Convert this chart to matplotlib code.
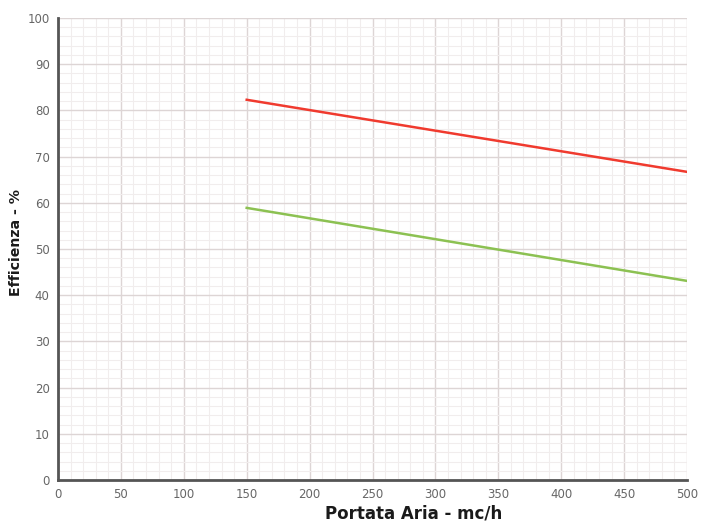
import matplotlib
matplotlib.use("Agg")
import matplotlib.pyplot as plt
from matplotlib.ticker import MultipleLocator

portata = [150, 500]
eff_red = [82.3, 66.7]
eff_green = [58.9, 43.1]

fig = plt.figure(figsize=(7.18, 5.24), dpi=100)
ax = fig.add_axes([58/718, 1-480/524, (687-58)/718, (480-18)/524])

ax.plot(portata, eff_red, color="#f03a2e", lw=1.8, zorder=3)
ax.plot(portata, eff_green, color="#8cc152", lw=1.8, zorder=3)

ax.set_xlim(0, 500)
ax.set_ylim(0, 100)
ax.xaxis.set_major_locator(MultipleLocator(50))
ax.yaxis.set_major_locator(MultipleLocator(10))
ax.xaxis.set_minor_locator(MultipleLocator(10))
ax.yaxis.set_minor_locator(MultipleLocator(2))
ax.grid(which="major", color="#ddd5d5", lw=1.0)
ax.grid(which="minor", color="#f1eded", lw=0.8)
ax.set_axisbelow(True)

for s in ["top", "right"]:
    ax.spines[s].set_visible(False)
for s in ["left", "bottom"]:
    ax.spines[s].set_color("#555555")
    ax.spines[s].set_linewidth(2)

ax.tick_params(which="both", length=0, labelsize=8.5, labelcolor="#666666", pad=6)
ax.set_xlabel("Portata Aria - mc/h", fontsize=12, fontweight="bold", color="#1a1a1a")
ax.set_ylabel("Efficienza - %", fontsize=10.2, fontweight="bold", color="#1a1a1a")
ax.xaxis.set_label_coords(0.565, -0.073)
ax.yaxis.set_label_coords(-0.066, 0.515)
ax.xaxis.label.set_va("center")
ax.yaxis.label.set_va("center")

fig.savefig("out.png", dpi=100)
